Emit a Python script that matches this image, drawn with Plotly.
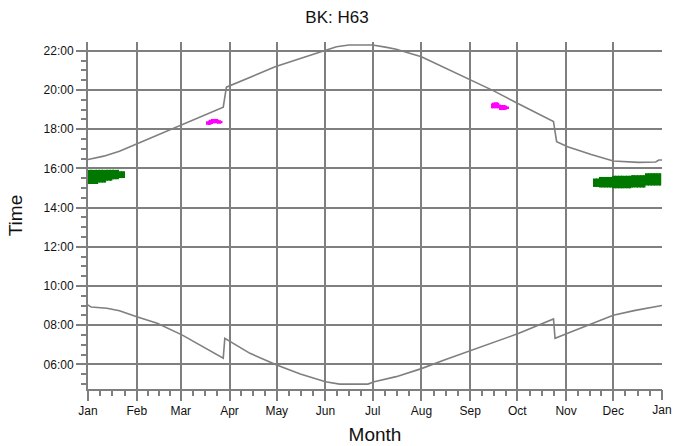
import plotly.graph_objects as go

# ---- axis definitions ----
month_labels = ["Jan", "Feb", "Mar", "Apr", "May", "Jun", "Jul", "Aug", "Sep", "Oct", "Nov", "Dec"]
month_starts = [0, 31, 59, 90, 120, 151, 181, 212, 243, 273, 304, 334]
year_end = 365
year_end_label = "Jan"
hour_ticks = [6, 8, 10, 12, 14, 16, 18, 20, 22]
hour_labels = ["06:00", "08:00", "10:00", "12:00", "14:00", "16:00", "18:00", "20:00", "22:00"]

# ---- upper curve (sunset, hours) ----
sunset_day = [0, 10, 20, 31, 45, 59, 72, 86, 88, 103, 119, 135, 151, 158, 166, 181, 190, 196,
              212, 227, 243, 258, 274, 296, 298, 305, 320, 334, 350, 361, 363, 365]
sunset_time = [16.45, 16.62, 16.87, 17.25, 17.72, 18.18, 18.65, 19.12, 20.14, 20.65, 21.18, 21.6,
               22.0, 22.2, 22.29, 22.29, 22.17, 22.07, 21.69, 21.12, 20.5, 19.95, 19.28, 18.38,
               17.36, 17.1, 16.7, 16.37, 16.3, 16.32, 16.42, 16.42]

# ---- lower curve (sunrise, hours) ----
sunrise_day = [0, 2, 12, 20, 31, 44, 60, 71, 86, 87, 103, 120, 135, 151, 160, 178, 182, 196,
               212, 227, 243, 258, 274, 296, 297, 305, 320, 334, 348, 365]
sunrise_time = [9.03, 8.92, 8.86, 8.73, 8.43, 8.09, 7.49, 6.98, 6.31, 7.33, 6.56, 5.96, 5.5, 5.11,
                4.99, 4.99, 5.11, 5.37, 5.78, 6.23, 6.69, 7.12, 7.58, 8.31, 7.33, 7.58, 8.05, 8.5,
                8.75, 9.0]

# ---- green activity (per-day start / end, hours) ----
green_day = list(range(1, 24)) + list(range(322, 365))
green_start = ([15.2] * 6 + [15.27] * 5 + [15.37] * 4 + [15.44] * 4 + [15.5] * 4 +
               [15.05] * 4 + [15.02] * 8 + [14.98] * 12 + [15.02] * 9 + [15.12] * 10)
green_end = ([15.92] * 19 + [15.85] * 4 +
             [15.48] * 4 + [15.56] * 8 + [15.62] * 12 + [15.65] * 9 + [15.75] * 10)

# ---- magenta activity (per-day start / end, hours) ----
magenta_day = [76, 77, 78, 79, 80, 81, 82, 83, 84, 85,
               257, 258, 259, 260, 261, 262, 263, 264, 265, 266, 267]
magenta_start = [18.22, 18.21, 18.22, 18.26, 18.3, 18.3, 18.3, 18.27, 18.27, 18.3,
                 19.06, 19.06, 19.06, 19.06, 19.06, 18.97, 18.97, 18.97, 18.97, 18.99, 19.02]
magenta_end = [18.4, 18.44, 18.48, 18.52, 18.52, 18.52, 18.52, 18.48, 18.45, 18.42,
               19.3, 19.35, 19.37, 19.37, 19.34, 19.25, 19.23, 19.23, 19.23, 19.2, 19.15]

GRAY = "#7f7f7f"
X_RANGE = [0, year_end]
Y_RANGE = [4.74, 22.444]

fig = go.Figure()
fig.add_trace(go.Scatter(x=sunset_day, y=sunset_time, mode="lines",
                         line=dict(color=GRAY, width=1.6), hoverinfo="skip"))
fig.add_trace(go.Scatter(x=sunrise_day, y=sunrise_time, mode="lines",
                         line=dict(color=GRAY, width=1.6), hoverinfo="skip"))
fig.add_trace(go.Bar(x=green_day, base=green_start,
                     y=[e - s for s, e in zip(green_start, green_end)],
                     width=1.02, marker=dict(color="#007800", line=dict(width=0))))
fig.add_trace(go.Bar(x=magenta_day, base=magenta_start,
                     y=[e - s for s, e in zip(magenta_start, magenta_end)],
                     width=1.02, marker=dict(color="#ff00ff", line=dict(width=0))))
# invisible carrier for the year-end tick axis
fig.add_trace(go.Scatter(x=[year_end], y=[Y_RANGE[0]], mode="markers", xaxis="x2",
                         marker=dict(opacity=0), hoverinfo="skip"))

bounds = month_starts + [year_end]
minor_x = []
for a, b in zip(bounds[:-1], bounds[1:]):
    for k in (1, 2, 3):
        minor_x.append(a + (b - a) * k / 4)
minor_y = [h / 2 for h in range(10, 45)]

fig.update_layout(
    width=674, height=446,
    margin=dict(l=88, r=12, t=42, b=57),
    paper_bgcolor="white", plot_bgcolor="white",
    showlegend=False, barmode="overlay",
    font=dict(family="Arial, Liberation Sans, sans-serif", color="#111111", size=12),
    title=dict(text="BK: H63", x=0.5, xanchor="center", xref="container",
               y=0.962, yref="container", yanchor="middle",
               font=dict(size=17, color="#111111")),
    xaxis=dict(
        range=X_RANGE, tickmode="array", tickvals=month_starts, ticktext=month_labels,
        showgrid=True, gridcolor=GRAY, gridwidth=2, zeroline=False,
        showline=True, linecolor=GRAY, linewidth=2, automargin=False,
        ticks="outside", ticklen=10, tickwidth=2, tickcolor=GRAY,
        minor=dict(tickmode="array", tickvals=minor_x, ticks="outside", ticklen=5,
                   tickwidth=2, tickcolor=GRAY, showgrid=False),
        title=dict(text="Month", font=dict(size=19), standoff=10),
        tickfont=dict(size=12),
    ),
    xaxis2=dict(
        range=X_RANGE, overlaying="x", anchor="y", side="bottom",
        tickmode="array", tickvals=[year_end], ticktext=[year_end_label],
        showgrid=False, zeroline=False, showline=False, automargin=False,
        ticks="outside", ticklen=10, tickwidth=2, tickcolor=GRAY,
        tickfont=dict(size=12),
    ),
    yaxis=dict(
        range=Y_RANGE, tickmode="array", tickvals=hour_ticks, ticktext=hour_labels,
        showgrid=True, gridcolor=GRAY, gridwidth=2, zeroline=False,
        showline=True, linecolor=GRAY, linewidth=2, automargin=False,
        ticks="outside", ticklen=10, tickwidth=2, tickcolor=GRAY,
        minor=dict(tickmode="array", tickvals=minor_y, ticks="outside", ticklen=5,
                   tickwidth=2, tickcolor=GRAY, showgrid=False),
        title=dict(text="Time", font=dict(size=19), standoff=16),
        tickfont=dict(size=12),
    ),
)

# remove the page's default body margin so the figure fills the window exactly
fig.write_html("out.html", config={"displayModeBar": False},
               post_script="document.body.style.margin='0';document.body.style.overflow='hidden';")
